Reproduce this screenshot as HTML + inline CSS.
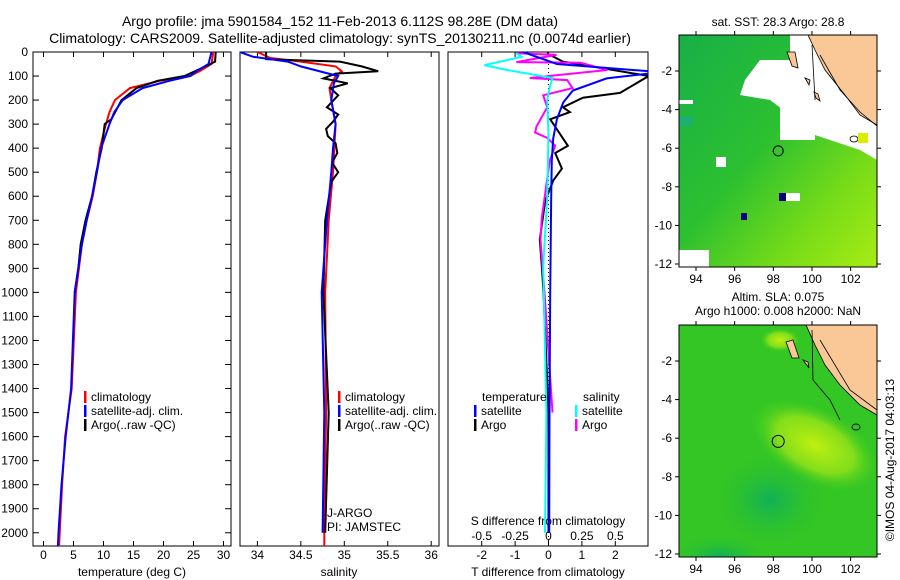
<!DOCTYPE html>
<html><head><meta charset="utf-8"><style>
body{margin:0;background:#fff;}
svg{display:block;font-family:"Liberation Sans",sans-serif;}
</style></head><body>
<svg id="fig" width="900" height="580" viewBox="0 0 900 580">
<defs>
<clipPath id="c1"><rect x="33" y="52" width="198" height="494"/></clipPath>
<clipPath id="c2"><rect x="240" y="52" width="199" height="494"/></clipPath>
<clipPath id="c3"><rect x="448" y="52" width="200" height="494"/></clipPath>
<clipPath id="cm1"><rect x="679" y="35" width="198" height="232"/></clipPath>
<clipPath id="cm2"><rect x="679" y="325" width="198" height="232"/></clipPath>
<linearGradient id="g1" x1="0" y1="0" x2="1" y2="1">
<stop offset="0" stop-color="#18b048"/><stop offset="0.45" stop-color="#2cc030"/><stop offset="0.75" stop-color="#78dc18"/><stop offset="1" stop-color="#a8ec14"/></linearGradient>
<radialGradient id="yb" cx="0.5" cy="0.5" r="0.5"><stop offset="0" stop-color="#c0f010"/><stop offset="0.6" stop-color="#98e418" stop-opacity="0.8"/><stop offset="1" stop-color="#40cc20" stop-opacity="0"/></radialGradient>
<radialGradient id="tb" cx="0.5" cy="0.5" r="0.5"><stop offset="0" stop-color="#10b058"/><stop offset="1" stop-color="#30c428" stop-opacity="0"/></radialGradient>
</defs>
<text x="340" y="26" font-size="14" text-anchor="middle">Argo profile: jma 5901584_152 11-Feb-2013 6.112S 98.28E (DM data)</text>
<text x="340" y="43" font-size="14" text-anchor="middle">Climatology: CARS2009. Satellite-adjusted climatology: synTS_20130211.nc (0.0074d earlier)</text>
<g id="axes"></g>
<g id="maps">
<text x="778" y="26" font-size="12" text-anchor="middle">sat. SST: 28.3 Argo: 28.8</text>
<g clip-path="url(#cm1)">
<rect x="679" y="35" width="198" height="232" fill="url(#g1)"/>
<polygon points="790,35 877,35 877,160 860,150 830,140 800,130 790,115 770,100 740,95 745,80 760,60 790,60" fill="#fff"/>
<rect x="780" y="95" width="35" height="45" fill="#fff"/>
<rect x="812" y="110" width="35" height="25" fill="#fff"/>
<rect x="679" y="100" width="14" height="4" fill="#fff"/>
<rect x="679" y="116" width="14" height="10" fill="#1cb070"/>
<rect x="716" y="157" width="10" height="10" fill="#fff"/>
<rect x="679" y="250" width="30" height="17" fill="#fff"/>
<rect x="779" y="193" width="7" height="8" fill="#000080"/>
<rect x="741" y="213" width="6" height="7" fill="#000080"/>
<rect x="786" y="193" width="14" height="8" fill="#fff"/>
<polygon points="808,35 877,35 877,125 860,115 845,95 825,70 815,50" fill="#f9c896" stroke="#000" stroke-width="0.8"/>
<path d="M812,45 L815,100 M820,55 L840,90 L860,112 L877,126" stroke="#000" fill="none" stroke-width="0.8"/>
<polygon points="787,52 795,52 798,68 792,66" fill="#f9c896" stroke="#000" stroke-width="0.8"/>
<polygon points="805,78 810,80 809,85" fill="#f9c896" stroke="#000" stroke-width="0.8"/>
<polygon points="814,92 818,94 820,101 816,98" fill="#f9c896" stroke="#000" stroke-width="0.8"/>
<ellipse cx="854" cy="139" rx="4" ry="3" fill="#fff" stroke="#000" stroke-width="0.8"/>
<rect x="858" y="133" width="10" height="10" fill="#d8f000"/>
<circle cx="778.2" cy="150.9" r="5" fill="none" stroke="#000" stroke-width="1"/>
</g>
<rect x="679" y="35" width="198" height="232" fill="none" stroke="#000"/>
<text x="778" y="301" font-size="12" text-anchor="middle">Altim. SLA: 0.075</text>
<text x="778" y="315" font-size="12" text-anchor="middle">Argo h1000: 0.008 h2000: NaN</text>
<g clip-path="url(#cm2)">
<rect x="679" y="325" width="198" height="232" fill="#34c624"/>
<ellipse cx="770" cy="500" rx="60" ry="50" fill="url(#tb)"/>
<ellipse cx="720" cy="555" rx="50" ry="20" fill="url(#tb)"/>
<ellipse cx="815" cy="445" rx="70" ry="38" fill="url(#yb)" transform="rotate(28 815 445)"/>
<ellipse cx="780" cy="340" rx="20" ry="12" fill="url(#yb)"/>
<polygon points="806,325 877,325 877,415 860,405 840,385 825,365 815,345" fill="#f9c896" stroke="#000" stroke-width="0.8"/>
<path d="M812,330 L813,380 L830,400 L840,420 M820,340 L850,390 L877,410" stroke="#000" fill="none" stroke-width="0.8"/>
<polygon points="786,342 793,340 799,358 792,358" fill="#f9c896" stroke="#000" stroke-width="0.8"/>
<polygon points="803,360 808,362 809,368" fill="#f9c896" stroke="#000" stroke-width="0.8"/>
<ellipse cx="856" cy="427" rx="4" ry="3" fill="none" stroke="#000" stroke-width="0.8"/>
<circle cx="778.2" cy="441.4" r="6" fill="none" stroke="#000" stroke-width="1"/>
</g>
<rect x="679" y="325" width="198" height="232" fill="none" stroke="#000"/>
<text transform="translate(894 460) rotate(-90)" font-size="12" text-anchor="middle">©IMOS 04-Aug-2017 04:03:13</text>
</g>
</svg>
<script>
// ---- data ----
const depthTicks=[0,100,200,300,400,500,600,700,800,900,1000,1100,1200,1300,1400,1500,1600,1700,1800,1900,2000];
const tempTicks=[0,5,10,15,20,25,30];
const salTicks=[34,34.5,35,35.5,36];
const salTickLabels=["34","34.5","35","35.5","36"];
const tdTicks=[-2,-1,0,1,2];
const sdTicks=[-0.5,-0.25,0,0.25,0.5];
const sdTickLabels=["-0.5","-0.25","0","0.25","0.5"];
const mapLonTicks=[94,96,98,100,102];
const mapLatTicks=[-2,-4,-6,-8,-10,-12];

const tClimDepth=[0,50,80,100,120,150,200,250,300,400,500,600,700,800,900,1000,1400,1600,1800,2000,2055];
const tClimVal=[28.3,28.0,26.0,24.4,19.4,14.4,11.9,11.0,10.4,9.4,8.9,8.2,7.2,6.4,5.9,5.4,4.7,3.6,3.1,2.7,2.6];
const tSatDepth=[0,50,80,100,120,150,200,250,300,400,500,600,700,800,900,1000,1400,1600,1800,2000,2055];
const tSatVal=[28.0,27.5,25.5,24.5,21.0,16.5,13.2,11.8,11.0,9.6,8.9,8.1,7.2,6.4,5.8,5.2,4.6,3.7,3.0,2.5,2.4];
const tArgoDepth=[0,40,60,100,120,150,200,280,300,400,500,600,700,800,900,1000];
const tArgoVal=[28.7,28.6,27.0,23.5,19.0,15.5,13.0,11.3,10.2,9.7,8.8,8.1,7.0,6.2,5.8,5.2];

const sClimDepth=[0,25,40,60,80,100,150,200,300,500,700,1000,1500,2000,2055];
const sClimVal=[34.0,34.15,34.5,34.9,34.97,34.9,34.83,34.85,34.9,34.87,34.82,34.78,34.79,34.77,34.77];
const sSatDepth=[0,20,40,60,90,100,130,200,300,400,500,700,1000,1500,2000];
const sSatVal=[33.8,33.95,34.35,34.5,34.82,34.93,34.88,34.85,34.9,34.87,34.85,34.8,34.74,34.77,34.75];
const sArgoDepth=[0,30,40,60,80,90,110,130,150,180,230,260,290,320,350,380,420,460,500,540,700,1000,1500,2000];
const sArgoVal=[34.1,34.1,34.95,35.2,35.39,34.9,34.76,35.04,34.84,34.93,34.8,34.93,34.87,34.79,34.81,34.9,34.92,34.86,34.93,34.85,34.78,34.76,34.82,34.78];

const dTSatDepth=[0,50,80,90,110,160,210,280,360,450,600,1000,1500,2000];
const dTSatVal=[-0.76,0.25,3.0,3.0,1.74,0.73,0.44,0.25,0.14,0.1,0.08,0.05,0.03,0.02];
const dTArgoDepth=[5,40,100,170,190,230,250,280,390,420,485,535,620,780,890,1000,1500,2000];
const dTArgoVal=[-0.05,0.43,3.0,2.14,1.03,0.43,0.64,0.05,0.58,0.2,0.4,0.14,-0.1,-0.26,-0.2,-0.15,0.0,0.0];
const dSArgoDepth=[5,12,42,45,75,108,117,150,180,230,310,335,357,390,450,690,780,1000,1500];
const dSArgoVal=[-0.24,0.06,-0.24,0.24,0.44,-0.14,0.14,0.18,-0.04,-0.01,-0.09,-0.1,-0.01,0.05,0.01,-0.05,-0.06,-0.03,0.03];
const dSSatDepth=[5,20,55,75,108,145,200,340,610,890,1500,2000];
const dSSatVal=[-0.24,-0.2,-0.48,-0.31,0.03,0.01,-0.01,0,-0.01,-0.04,-0.016,-0.026];

// ---- scales ----
const y0=52,yB=546,dMax=2055;
const yD=d=>y0+(d/dMax)*(yB-y0);
const xT=t=>43.5+t*6.0;
const xS=s=>257.4+(s-34)*86.9;
const xDT=v=>548.5+v*33.4;
const xDS=v=>548.5+v*133.6;
const NS="http://www.w3.org/2000/svg";
const g=document.getElementById('axes');
function mk(tag,attrs,parent){const e=document.createElementNS(NS,tag);for(const k in attrs)e.setAttribute(k,attrs[k]);(parent||g).appendChild(e);return e;}
function txt(x,y,s,anchor,size,parent){const e=mk('text',{x:x,y:y,'font-size':size||12,'text-anchor':anchor||'middle'},parent);e.textContent=s;return e;}
function line(xs,ys,xf,color,clip,name,w){
  const pts=xs.map((v,i)=>xf(v).toFixed(1)+','+yD(ys[i]).toFixed(1)).join(' ');
  const e=mk('polyline',{points:pts,fill:'none',stroke:color,'stroke-width':w||2,'clip-path':'url(#'+clip+')'});
  
  
}
const panels=[{x:33,w:198,n:'temperature-panel'},{x:240,w:199,n:'salinity-panel'},{x:448,w:200,n:'difference-panel'}];
panels.forEach(p=>{
  const r=mk('rect',{x:p.x,y:y0,width:p.w,height:yB-y0,fill:'none',stroke:'#000'});
  
  
});
// depth ticks
depthTicks.forEach(d=>{
  const y=yD(d);
  mk('line',{x1:33,x2:39,y1:y,y2:y,stroke:'#000'});
  mk('line',{x1:225,x2:231,y1:y,y2:y,stroke:'#000'});
  const t=txt(28,y+4,String(d),'end',12);
  
  
});
function xticks(vals,labels,xf,ly){
  vals.forEach((v,i)=>{const x=xf(v);
    mk('line',{x1:x,x2:x,y1:y0,y2:y0+5,stroke:'#000'});
    mk('line',{x1:x,x2:x,y1:yB,y2:yB-5,stroke:'#000'});
    const t=txt(x,ly,labels[i],'middle',12);
    
    
  });
}
xticks(tempTicks,tempTicks.map(String),xT,559);
xticks(salTicks,salTickLabels,xS,559);
xticks(tdTicks,tdTicks.map(String),xDT,559);
sdTicks.forEach((v,i)=>{const t=txt(xDS(v),540,sdTickLabels[i],'middle',12);
  
  });
let at=txt(132,576,'temperature (deg C)');
at=txt(339,576,'salinity');
at=txt(548,576,'T difference from climatology');
at=txt(548,525,'S difference from climatology');
// zero dotted line
const z=mk('line',{x1:xDT(0),x2:xDT(0),y1:y0,y2:yB,stroke:'#000','stroke-dasharray':'1 3'});


// series
line(tClimVal,tClimDepth,xT,'#f00','c1','temp-climatology-line');
line(tArgoVal,tArgoDepth,xT,'#000','c1','temp-argo-line');
line(tSatVal,tSatDepth,xT,'#00f','c1','temp-satellite-line');
line(sClimVal,sClimDepth,xS,'#f00','c2','sal-climatology-line');
line(sArgoVal,sArgoDepth,xS,'#000','c2','sal-argo-line');
line(sSatVal,sSatDepth,xS,'#00f','c2','sal-satellite-line');
line(dTArgoVal,dTArgoDepth,xDT,'#000','c3','tdiff-argo-line');
line(dSArgoVal,dSArgoDepth,xDS,'#f0f','c3','sdiff-argo-line');
line(dTSatVal,dTSatDepth,xDT,'#00f','c3','tdiff-satellite-line');
line(dSSatVal,dSSatDepth,xDS,'#0ff','c3','sdiff-satellite-line');
// legends
function leg(x,y,color,label,name){
  const b=mk('rect',{x:x,y:y-10,width:2.5,height:12,fill:color});
  const t=txt(x+7,y,label,'start',12);
  
  
}
leg(84,401,'#f00','climatology','legend-climatology');
leg(84,415,'#00f','satellite-adj. clim.','legend-satellite');
leg(84,429,'#000','Argo(..raw -QC)','legend-argo');
leg(338,401,'#f00','climatology','legend-climatology-sal');
leg(338,415,'#00f','satellite-adj. clim.','legend-satellite-sal');
leg(338,429,'#000','Argo(..raw -QC)','legend-argo-sal');
let lt=txt(482,401,'temperature','start',12);
lt=txt(583,401,'salinity','start',12);
leg(474,415,'#00f','satellite','legend-t-satellite');
leg(474,429,'#000','Argo','legend-t-argo');
leg(575,415,'#0ff','satellite','legend-s-satellite');
leg(575,429,'#f0f','Argo','legend-s-argo');
lt=txt(327,517,'J-ARGO','start',12);
lt=txt(327,531,'PI: JAMSTEC','start',12);
// map axes
const mg=document.getElementById('maps');
function mapAxes(top,bot,latRef){
  mapLonTicks.forEach(v=>{const x=696+(v-94)*19.33;
    mk('line',{x1:x,x2:x,y1:top,y2:top-4,stroke:'#000'},mg);
    mk('line',{x1:x,x2:x,y1:bot,y2:bot+4,stroke:'#000'},mg);
    const t=txt(x,bot+16,String(v),'middle',12,mg);
    
    });
  mapLatTicks.forEach(v=>{const y=latRef+(-2-v)*19.3;
    mk('line',{x1:679,x2:675,y1:y,y2:y,stroke:'#000'},mg);
    mk('line',{x1:877,x2:881,y1:y,y2:y,stroke:'#000'},mg);
    const t=txt(672,y+4,String(v),'end',12,mg);
    
    });
}
mapAxes(35,267,71);
mapAxes(325,557,361);
</script>
</body></html>
